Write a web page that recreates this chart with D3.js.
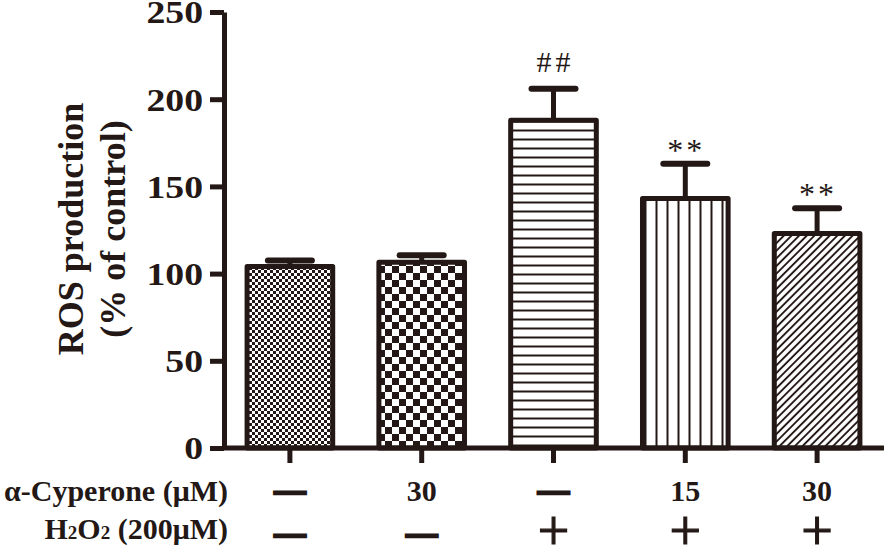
<!DOCTYPE html>
<html>
<head>
<meta charset="utf-8">
<script src="https://cdn.jsdelivr.net/npm/d3@7"></script>
<style>
  body { margin: 0; background: #fff; }
  svg { display: block; }
  text { font-family: "Liberation Serif", "Times New Roman", serif; fill: #231815; }
</style>
</head>
<body>
<div id="chart"></div>
<script>
// data
let groups = ['g1', 'g2', 'g3', 'g4', 'g5'];
let means = [104, 106.5, 188, 143, 123];
let errors = [3.5, 4, 18, 20, 14.5];
let marks = ['', '', '##', '**', '**'];
let yTicks = [0, 50, 100, 150, 200, 250];
let cyperoneRow = ['—', '30', '—', '15', '30'];
let h2o2Row = ['—', '—', '+', '+', '+'];
let yLabelLines = ['ROS production', '(% of control)'];

const width = 886, height = 551;
const ink = '#231815';
const fills = ['url(#checkFine)', 'url(#checkCoarse)', 'url(#hLines)', 'url(#vLines)', 'url(#diag)'];

let svg = d3.select('#chart').append('svg')
  .attr('width', width)
  .attr('height', height);

// fill patterns
let defs = svg.append('defs');

let p1 = defs.append('pattern').attr('id', 'checkFine')
  .attr('patternUnits', 'userSpaceOnUse').attr('width', 6).attr('height', 6);
p1.append('rect').attr('width', 6).attr('height', 6).attr('fill', '#fff');
p1.append('rect').attr('width', 3).attr('height', 3).attr('fill', ink);
p1.append('rect').attr('x', 3).attr('y', 3).attr('width', 3).attr('height', 3).attr('fill', ink);

let p2 = defs.append('pattern').attr('id', 'checkCoarse')
  .attr('patternUnits', 'userSpaceOnUse').attr('width', 14).attr('height', 14);
p2.append('rect').attr('width', 14).attr('height', 14).attr('fill', '#fff');
p2.append('rect').attr('width', 7).attr('height', 7).attr('fill', ink);
p2.append('rect').attr('x', 7).attr('y', 7).attr('width', 7).attr('height', 7).attr('fill', ink);

let p3 = defs.append('pattern').attr('id', 'hLines')
  .attr('patternUnits', 'userSpaceOnUse').attr('width', 10).attr('height', 9);
p3.append('rect').attr('width', 10).attr('height', 9).attr('fill', '#fff');
p3.append('line').attr('x1', 0).attr('x2', 10).attr('y1', 4.5).attr('y2', 4.5)
  .attr('stroke', ink).attr('stroke-width', 2);

let p4 = defs.append('pattern').attr('id', 'vLines')
  .attr('patternUnits', 'userSpaceOnUse').attr('width', 11).attr('height', 10)
  .attr('x', 2);
p4.append('rect').attr('width', 11).attr('height', 10).attr('fill', '#fff');
p4.append('line').attr('x1', 5.5).attr('x2', 5.5).attr('y1', 0).attr('y2', 10)
  .attr('stroke', ink).attr('stroke-width', 2);

let p5 = defs.append('pattern').attr('id', 'diag')
  .attr('patternUnits', 'userSpaceOnUse').attr('width', 5.4).attr('height', 10)
  .attr('patternTransform', 'rotate(45)');
p5.append('rect').attr('width', 5.4).attr('height', 10).attr('fill', '#fff');
p5.append('line').attr('x1', 2.7).attr('x2', 2.7).attr('y1', 0).attr('y2', 10)
  .attr('stroke', ink).attr('stroke-width', 1.9);

// scales
let x = d3.scaleBand()
  .domain(groups)
  .range([224, 883])
  .paddingInner(0.32)
  .paddingOuter(0.16);

let y = d3.scaleLinear()
  .domain([0, 250])
  .range([448, 12]);

// error bars (upper only)
let errG = svg.append('g');
errG.selectAll('line.stem')
  .data(groups)
  .enter().append('line')
  .attr('class', 'stem')
  .attr('x1', d => x(d) + x.bandwidth() / 2)
  .attr('x2', d => x(d) + x.bandwidth() / 2)
  .attr('y1', (d, i) => y(means[i]))
  .attr('y2', (d, i) => y(means[i] + errors[i]))
  .attr('stroke', ink).attr('stroke-width', 5);

errG.selectAll('line.cap')
  .data(groups)
  .enter().append('line')
  .attr('class', 'cap')
  .attr('x1', d => x(d) + x.bandwidth() / 2 - 22)
  .attr('x2', d => x(d) + x.bandwidth() / 2 + 22)
  .attr('y1', (d, i) => y(means[i] + errors[i]))
  .attr('y2', (d, i) => y(means[i] + errors[i]))
  .attr('stroke', ink).attr('stroke-width', 6)
  .attr('stroke-linecap', 'round');

// bars
svg.append('g').selectAll('rect')
  .data(groups)
  .enter().append('rect')
  .attr('x', d => x(d) + 2)
  .attr('width', x.bandwidth() - 4)
  .attr('y', (d, i) => y(means[i]))
  .attr('height', (d, i) => y(0) - y(means[i]))
  .attr('fill', (d, i) => fills[i])
  .attr('stroke', ink)
  .attr('stroke-width', 5)
  .attr('stroke-linejoin', 'round');

// significance marks
svg.append('g').selectAll('text')
  .data(groups)
  .enter().append('text')
  .attr('text-anchor', 'middle')
  .attr('x', (d, i) => x(d) + x.bandwidth() / 2 + (marks[i] === '##' ? 2 : 1))
  .attr('y', (d, i) => y(means[i] + errors[i]) - (marks[i] === '##' ? 17 : 3))
  .style('font-size', (d, i) => marks[i] === '##' ? '30px' : '32px')
  .style('letter-spacing', (d, i) => marks[i] === '##' ? '4px' : '3px')
  .text((d, i) => marks[i]);

// axes
let sx = 1.18;
let yAxis = svg.append('g')
  .attr('transform', 'translate(224,0)')
  .call(d3.axisLeft(y).tickValues(yTicks).tickSize(14).tickSizeOuter(0).tickPadding(0));
yAxis.selectAll('path, line').attr('stroke', ink).attr('stroke-width', 5);
yAxis.selectAll('text')
  .attr('x', -21 / sx)
  .attr('dy', '0.34em')
  .attr('transform', `scale(${sx},1)`)
  .style('font-size', '32px')
  .style('font-weight', 'bold')
  .style('font-family', '"Liberation Serif", serif')
  .attr('fill', ink);

let xAxis = svg.append('g')
  .attr('transform', `translate(0,${y(0)})`)
  .call(d3.axisBottom(x).tickSize(15).tickSizeOuter(0).tickFormat(''));
xAxis.select('path.domain').attr('d', `M224,0H884`);
xAxis.selectAll('path, line').attr('stroke', ink).attr('stroke-width', 5);

// y axis title
svg.append('g').selectAll('text')
  .data(yLabelLines)
  .enter().append('text')
  .attr('transform', (d, i) => `translate(${83 + i * 42},229)rotate(-90)`)
  .attr('text-anchor', 'middle')
  .style('font-size', '36px')
  .style('font-weight', 'bold')
  .text(d => d);

// condition rows
let rowLabels = svg.append('g')
  .attr('text-anchor', 'end')
  .style('font-size', '30px')
  .style('font-weight', 'bold');
rowLabels.append('text').attr('x', 228).attr('y', 501).text('α-Cyperone (μM)');
let h = rowLabels.append('text').attr('x', 228).attr('y', 539);
h.append('tspan').text('H');
h.append('tspan').style('font-size', '19px').text('2');
h.append('tspan').text('O');
h.append('tspan').style('font-size', '19px').text('2');
h.append('tspan').text(' (200μM)');

function symbol(sel, rowY) {
  sel.attr('text-anchor', 'middle')
    .attr('x', d => x(d.g) + x.bandwidth() / 2)
    .each(function(d) {
      let t = d3.select(this);
      if (d.v === '—') {
        t.attr('y', rowY.dash).style('font-size', '31px').style('font-weight', 'bold')
          .attr('stroke', ink).attr('stroke-width', 2.6);
      } else if (d.v === '+') {
        t.attr('y', rowY.plus).style('font-size', '56px')
          .attr('stroke', ink).attr('stroke-width', 1.2);
      } else {
        t.attr('y', rowY.num).style('font-size', '30px').style('font-weight', 'bold');
      }
    })
    .text(d => d.v);
}

svg.append('g').selectAll('text')
  .data(groups.map((g, i) => ({g: g, v: cyperoneRow[i]})))
  .enter().append('text')
  .call(symbol, {dash: 500, plus: 506, num: 501});

svg.append('g').selectAll('text')
  .data(groups.map((g, i) => ({g: g, v: h2o2Row[i]})))
  .enter().append('text')
  .call(symbol, {dash: 543, plus: 550, num: 539});
</script>
</body>
</html>
